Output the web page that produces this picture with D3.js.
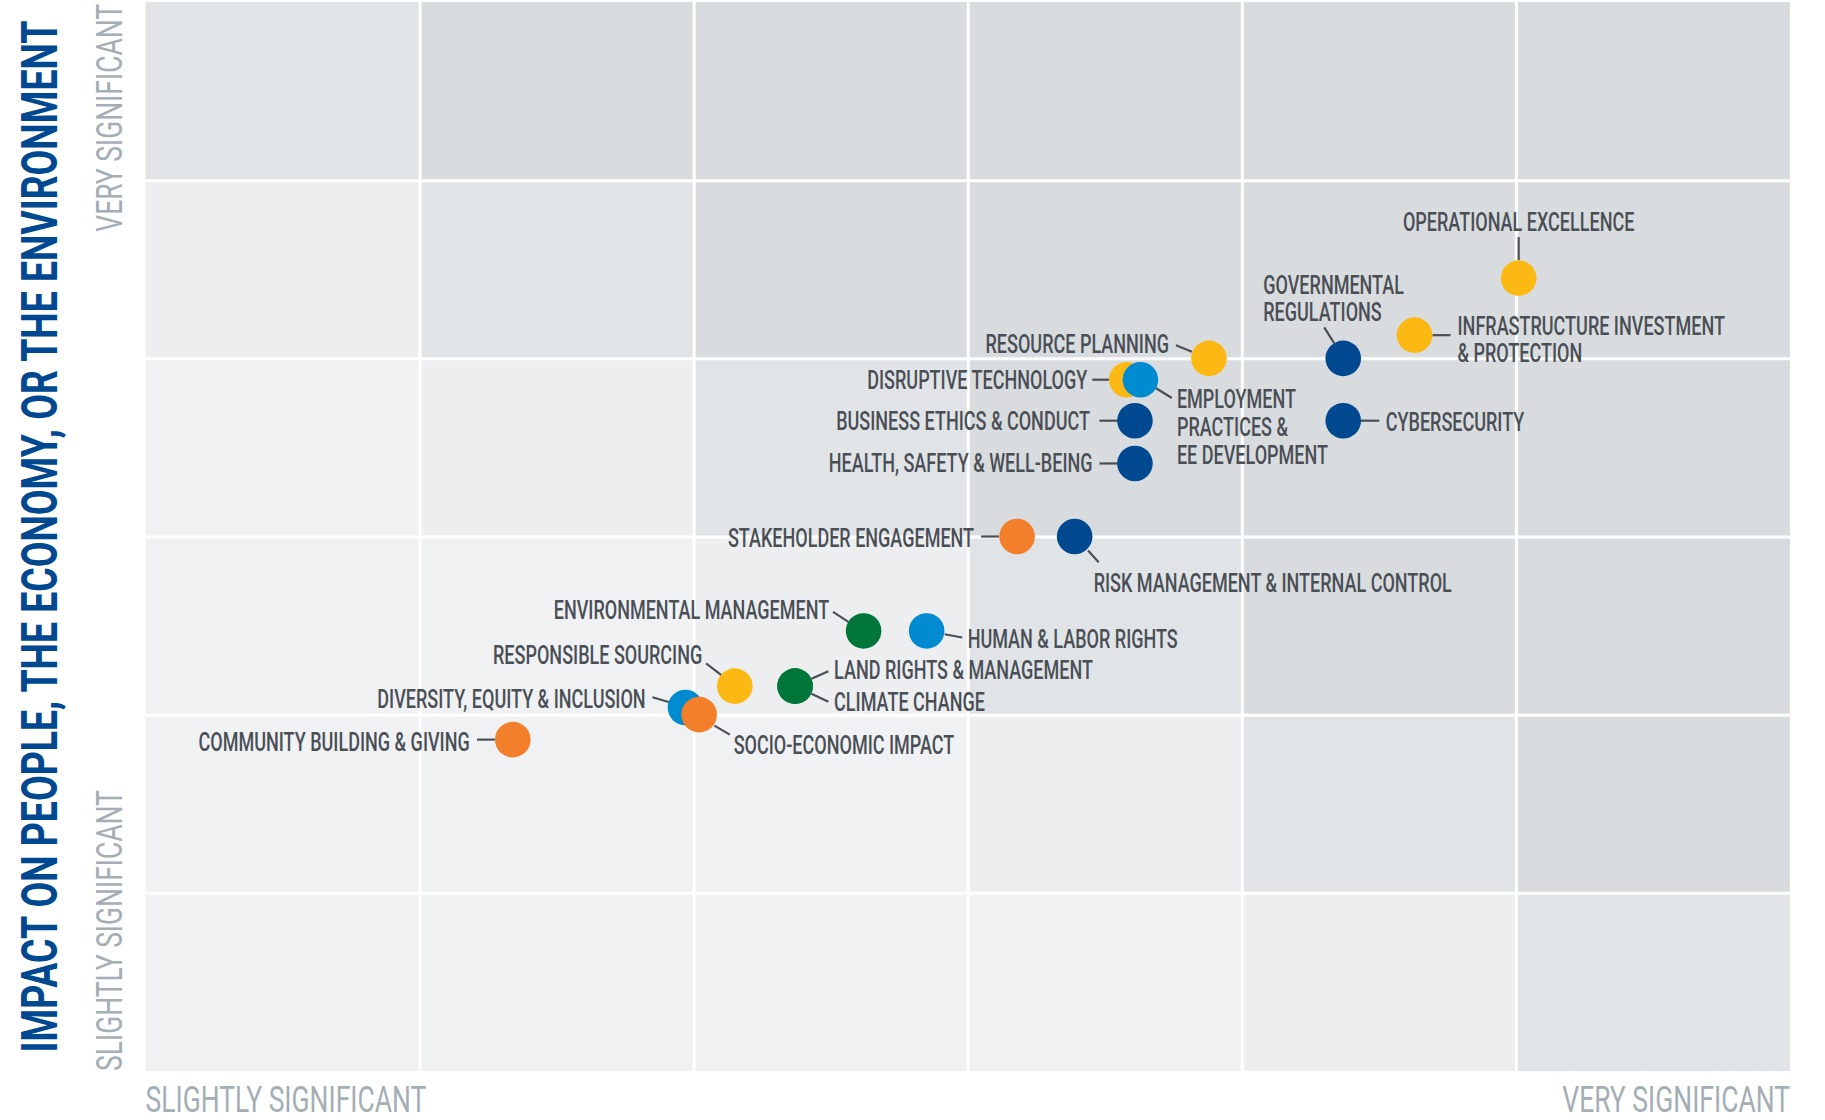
<!DOCTYPE html>
<html>
<head>
<meta charset="utf-8">
<script src="https://cdn.jsdelivr.net/npm/d3@7"></script>
<style>
  html, body { margin: 0; padding: 0; background: #ffffff; }
  svg { display: block; }
</style>
</head>
<body>
<svg id="chart" width="1825" height="1120"></svg>
<script>
// ---------------- DATA ----------------
const topics = [
  "OPERATIONAL EXCELLENCE",
  "INFRASTRUCTURE INVESTMENT & PROTECTION",
  "GOVERNMENTAL REGULATIONS",
  "CYBERSECURITY",
  "RESOURCE PLANNING",
  "DISRUPTIVE TECHNOLOGY",
  "EMPLOYMENT PRACTICES & EE DEVELOPMENT",
  "BUSINESS ETHICS & CONDUCT",
  "HEALTH, SAFETY & WELL-BEING",
  "STAKEHOLDER ENGAGEMENT",
  "RISK MANAGEMENT & INTERNAL CONTROL",
  "ENVIRONMENTAL MANAGEMENT",
  "HUMAN & LABOR RIGHTS",
  "RESPONSIBLE SOURCING",
  "LAND RIGHTS & MANAGEMENT",
  "CLIMATE CHANGE",
  "DIVERSITY, EQUITY & INCLUSION",
  "SOCIO-ECONOMIC IMPACT",
  "COMMUNITY BUILDING & GIVING"
];
// significance to the business (x) and impact on people/economy/environment (y), 0..6
const businessSignificance = [5.01, 4.63, 4.37, 4.37, 3.88, 3.58, 3.63, 3.61, 3.61, 3.18, 3.39, 2.62, 2.85, 2.15, 2.37, 2.37, 1.97, 2.02, 1.34];
const impactSignificance   = [4.45, 4.13, 4.00, 3.65, 4.00, 3.88, 3.88, 3.65, 3.41, 3.00, 3.00, 2.47, 2.47, 2.16, 2.16, 2.16, 2.04, 2.00, 1.86];
const topicGroups = ["economic", "economic", "governance", "governance", "economic", "economic", "social", "governance", "governance", "community", "governance", "environment", "social", "economic", "environment", "environment", "social", "community", "community"];

const groupNames  = ["economic", "governance", "social", "community", "environment"];
const gridTicks   = [1, 2, 3, 4, 5];
const axisLow     = "SLIGHTLY SIGNIFICANT";
const axisHigh    = "VERY SIGNIFICANT";
const yTitle      = "IMPACT ON PEOPLE, THE ECONOMY, OR THE ENVIRONMENT";

// ---------------- STYLE / LAYOUT ----------------
const groupColors = ["#fdb913", "#004990", "#008bd0", "#f47f2a", "#00763a"];
const cellShades  = ["#f0f1f3", "#f0f1f3", "#f0f1f3", "#f0f1f3", "#eceef0", "#e1e4e7", "#d9dcdf"];
const labelColor  = "#4a4f56";
const axisColor   = "#a4aeb5";
const titleColor  = "#004990";

// label placement relative to each dot (px): anchor, dx, dy, line height, leader [x1,y1,x2,y2]
const labelLayout = {
  "OPERATIONAL EXCELLENCE": {a: "middle", dx: 0, dy: -47, lines: ["OPERATIONAL EXCELLENCE"], lead: [0, -41, 0, -18]},
  "INFRASTRUCTURE INVESTMENT & PROTECTION": {a: "start", dx: 43, dy: -0.5, lh: 27, lines: ["INFRASTRUCTURE INVESTMENT", "& PROTECTION"], lead: [18, 0, 36, 0]},
  "GOVERNMENTAL REGULATIONS": {a: "start", dx: -80, dy: -64.5, lh: 27, lines: ["GOVERNMENTAL", "REGULATIONS"], lead: [-19, -31, -9, -15]},
  "CYBERSECURITY": {a: "start", dx: 42.5, dy: 10, lines: ["CYBERSECURITY"], lead: [17.5, 0, 36, 0]},
  "RESOURCE PLANNING": {a: "end", dx: -40, dy: -5.6, lines: ["RESOURCE PLANNING"], lead: [-33, -13, -17, -6.6]},
  "DISRUPTIVE TECHNOLOGY": {a: "end", dx: -39.4, dy: 9.3, lines: ["DISRUPTIVE TECHNOLOGY"], lead: [-34.4, 0, -17.2, 0]},
  "EMPLOYMENT PRACTICES & EE DEVELOPMENT": {a: "start", dx: 36.5, dy: 28, lh: 28, lines: ["EMPLOYMENT", "PRACTICES &", "EE DEVELOPMENT"], lead: [15.3, 8.3, 31.4, 18.3]},
  "BUSINESS ETHICS & CONDUCT": {a: "end", dx: -45, dy: 9.3, lines: ["BUSINESS ETHICS & CONDUCT"], lead: [-35.5, 0, -17, 0]},
  "HEALTH, SAFETY & WELL-BEING": {a: "end", dx: -42.4, dy: 9, lines: ["HEALTH, SAFETY & WELL-BEING"], lead: [-35.5, 0, -17, 0]},
  "STAKEHOLDER ENGAGEMENT": {a: "end", dx: -43, dy: 10, lines: ["STAKEHOLDER ENGAGEMENT"], lead: [-36, 0, -18, 0]},
  "RISK MANAGEMENT & INTERNAL CONTROL": {a: "start", dx: 19, dy: 55.7, lines: ["RISK MANAGEMENT & INTERNAL CONTROL"], lead: [13.4, 14, 24, 25.7]},
  "ENVIRONMENTAL MANAGEMENT": {a: "end", dx: -34.4, dy: -11.7, lines: ["ENVIRONMENTAL MANAGEMENT"], lead: [-30.6, -19, -15.2, -9]},
  "HUMAN & LABOR RIGHTS": {a: "start", dx: 41, dy: 16.6, lines: ["HUMAN & LABOR RIGHTS"], lead: [18, 3.3, 35.6, 6.6]},
  "RESPONSIBLE SOURCING": {a: "end", dx: -32.5, dy: -21.7, lines: ["RESPONSIBLE SOURCING"], lead: [-28.7, -22.7, -13.4, -11]},
  "LAND RIGHTS & MANAGEMENT": {a: "start", dx: 39, dy: -6.7, lines: ["LAND RIGHTS & MANAGEMENT"], lead: [16.4, -7.4, 33.3, -15]},
  "CLIMATE CHANGE": {a: "start", dx: 39, dy: 25, lines: ["CLIMATE CHANGE"], lead: [16.4, 7.6, 33.3, 15.6]},
  "DIVERSITY, EQUITY & INCLUSION": {a: "end", dx: -39.8, dy: 0.6, lines: ["DIVERSITY, EQUITY & INCLUSION"], lead: [-33, -10.3, -15.2, -5]},
  "SOCIO-ECONOMIC IMPACT": {a: "start", dx: 34.5, dy: 39, lines: ["SOCIO-ECONOMIC IMPACT"], lead: [15.3, 11, 30.6, 20]},
  "COMMUNITY BUILDING & GIVING": {a: "end", dx: -43, dy: 11.7, lines: ["COMMUNITY BUILDING & GIVING"], lead: [-35.8, 0, -17.9, 0]}
};

// ---------------- CHART ----------------
const svg = d3.select("#chart");
const plot = {left: 145.5, right: 1790, top: 2, bottom: 1071};

const x = d3.scaleLinear().domain([0, 6]).range([plot.left, plot.right]);
const y = d3.scaleLinear().domain([0, 6]).range([plot.bottom, plot.top]);
const color = d3.scaleOrdinal().domain(groupNames).range(groupColors);

const FONT = "Roboto, 'Open Sans', 'DejaVu Sans', sans-serif";

// background cells
const cells = [];
for (let i = 0; i < 6; i++) for (let j = 0; j < 6; j++) cells.push({i, j});
svg.append("g").selectAll("rect").data(cells).join("rect")
  .attr("x", d => x(d.i))
  .attr("y", d => y(d.j + 1))
  .attr("width", d => x(d.i + 1) - x(d.i))
  .attr("height", d => y(d.j) - y(d.j + 1))
  .attr("fill", d => cellShades[Math.min(d.i + d.j, cellShades.length - 1)]);

// white grid lines via axes
const gx = svg.append("g")
  .attr("transform", `translate(0,${plot.bottom})`)
  .call(d3.axisBottom(x).tickValues(gridTicks).tickSize(-(plot.bottom - plot.top)).tickFormat(""));
const gy = svg.append("g")
  .attr("transform", `translate(${plot.left},0)`)
  .call(d3.axisLeft(y).tickValues(gridTicks).tickSize(-(plot.right - plot.left)).tickFormat(""));
[gx, gy].forEach(g => {
  g.select(".domain").remove();
  g.selectAll(".tick line").attr("stroke", "#ffffff").attr("stroke-width", 3);
});

function factorFor(str, size, weight, target) {
  const t = svg.append("text").attr("font-family", FONT).attr("font-size", size)
    .attr("font-weight", weight).text(str);
  const w = t.node().getComputedTextLength();
  t.remove();
  return target / w;
}

// axis end labels (condensed via horizontal scale)
const axK = factorFor(axisLow, 37, 400, 281);
const axisTexts = svg.append("g").attr("font-family", FONT).attr("font-size", 37).attr("fill", axisColor);
const axisSpecs = [
  {t: axisLow,  tr: `translate(${plot.left},1112)`, a: "start"},
  {t: axisHigh, tr: `translate(${plot.right},1112)`, a: "end"},
  {t: axisLow,  tr: `translate(122,${plot.bottom}) rotate(-90)`, a: "start"},
  {t: axisHigh, tr: `translate(122,${plot.top + 2}) rotate(-90)`, a: "end"}
];
axisSpecs.forEach(s => {
  axisTexts.append("text").attr("transform", `${s.tr} scale(${axK},1)`)
    .attr("text-anchor", s.a).text(s.t);
});

// y title
const tK = factorFor(yTitle, 50, 700, 1032);
svg.append("text")
  .attr("font-family", FONT).attr("font-size", 50).attr("font-weight", 700)
  .attr("fill", titleColor).attr("text-anchor", "middle")
  .attr("transform", `translate(57,${(plot.top + plot.bottom) / 2}) rotate(-90) scale(${tK},1)`)
  .text(yTitle);

// points
const points = topics.map((t, k) => ({
  name: t, bx: businessSignificance[k], iy: impactSignificance[k], group: topicGroups[k]
}));

const labK = factorFor("OPERATIONAL EXCELLENCE", 26, 500, 231.6);

const lab = svg.append("g");
points.forEach(p => {
  const L = labelLayout[p.name];
  const cx = x(p.bx), cy = y(p.iy);
  lab.append("line")
    .attr("x1", cx + L.lead[0]).attr("y1", cy + L.lead[1])
    .attr("x2", cx + L.lead[2]).attr("y2", cy + L.lead[3])
    .attr("stroke", labelColor).attr("stroke-width", 2.2);
  const t = lab.append("text")
    .attr("transform", `translate(${cx + L.dx},${cy + L.dy}) scale(${labK},1)`)
    .attr("text-anchor", L.a)
    .attr("font-family", FONT).attr("font-size", 26).attr("font-weight", 500)
    .attr("fill", labelColor);
  L.lines.forEach((ln, li) => {
    t.append("tspan").attr("x", 0).attr("y", li * (L.lh || 26)).text(ln);
  });
});

svg.append("g").selectAll("circle").data(points).join("circle")
  .attr("cx", d => x(d.bx))
  .attr("cy", d => y(d.iy))
  .attr("r", 17.8)
  .attr("fill", d => color(d.group));
</script>
</body>
</html>
